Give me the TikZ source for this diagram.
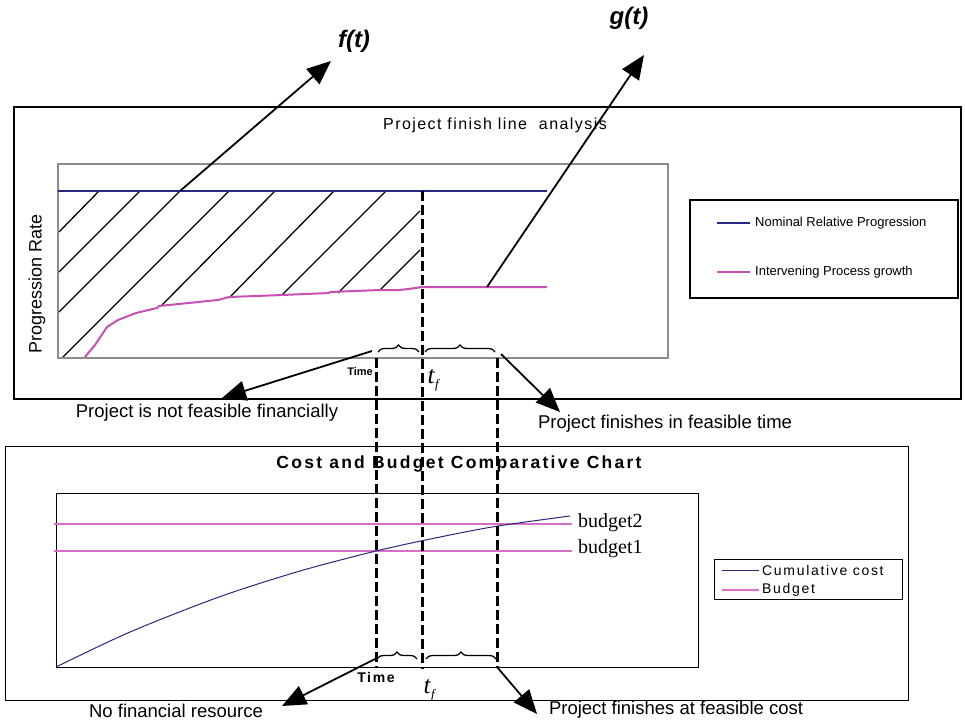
\documentclass[tikz,border=0pt]{standalone}
\usepackage{fontspec}
\setmainfont{Liberation Serif}
\setsansfont{Liberation Sans}
\newfontfamily\capfont{Liberation Sans}
\newfontfamily\headfont[LetterSpace=9]{Liberation Sans}
\newfontfamily\chartfont[LetterSpace=13]{Liberation Sans}
\newfontfamily\keyfont[LetterSpace=12]{Liberation Sans}
\usetikzlibrary{arrows.meta,decorations.pathreplacing}

\definecolor{navyline}{RGB}{40,40,130}
\definecolor{pinkline}{RGB}{200,80,180}
\definecolor{softpink}{RGB}{215,110,200}
\definecolor{framegray}{RGB}{140,140,140}

\begin{document}
\begin{tikzpicture}[x=1pt,y=-1pt,
  outerframe/.style={draw=black,line width=2},
  thinframe/.style={draw=black,line width=1},
  plotframe/.style={draw=framegray,line width=2},
  nominal/.style={draw=navyline,line width=2},
  growth/.style={draw=pinkline,line width=2},
  costline/.style={draw=navyline,line width=1},
  budgetline/.style={draw=softpink,line width=1.4},
  hatchline/.style={draw=black,line width=1.3},
  guide/.style={draw=black,line width=3,dash pattern=on 10pt off 4pt},
  callout/.style={draw=black,line width=1.8,-{Triangle[length=24pt,width=20pt]}},
  timebrace/.style={draw=black,line width=1.3,decorate,decoration={brace,amplitude=7pt}},
  caption/.style={font=\capfont\fontsize{18.5}{22}\selectfont,inner sep=0pt},
  legendtext/.style={font=\capfont\fontsize{13}{15}\selectfont,inner sep=0pt,anchor=west},
  costlegend/.style={font=\keyfont\fontsize{14}{16}\selectfont,inner sep=0pt,anchor=west},
  budgetlabel/.style={font=\fontsize{20}{22}\selectfont,inner sep=0pt,anchor=west},
  funclabel/.style={font=\capfont\bfseries\itshape\fontsize{24}{26}\selectfont,inner sep=0pt},
  tflabel/.style={font=\fontsize{25}{26}\selectfont,inner sep=0pt}
]
\useasboundingbox (0,0) rectangle (965,723);
\fill[white] (0,0) rectangle (965,723);

% ---------- upper panel: project finish line analysis ----------
\draw[outerframe] (14,107) rectangle (961,399);
\node[font=\headfont\fontsize{16}{18}\selectfont,inner sep=0pt] (uptitle) at (495,125) {Project finish line \ analysis};

% hatched area between the two progression curves
\draw[hatchline] (59,232) -- (99,191);
\draw[hatchline] (59,272) -- (140,191);
\draw[hatchline] (59,312) -- (180,191);
\draw[hatchline] (62,358) -- (229,191);
\draw[hatchline] (162,305) -- (275,191);
\draw[hatchline] (229,298) -- (334,191);
\draw[hatchline] (282,295) -- (386,191);
\draw[hatchline] (338,293) -- (420,211);
\draw[hatchline] (380,290) -- (420,250);

\draw[plotframe] (58,164) rectangle (668,358);
\node[font=\capfont\fontsize{18}{20}\selectfont,rotate=90,inner sep=0pt] (yaxis) at (37,284) {Progression Rate};

\draw[nominal] (58,191) -- (547,191);
\draw[growth,line join=round] (85,357) -- (95,345) -- (107,327) -- (118,320) -- (136,313)
  -- (157,308) -- (159,306) -- (218,300) -- (229,297) -- (282,295) -- (329,293)
  -- (330,292) -- (380,290) -- (400,290) -- (416,288) -- (421,287) -- (547,287);

% legend of the upper panel
\draw[outerframe] (690,200) rectangle (958,298);
\draw[nominal] (717,223) -- (750,223);
\node[legendtext] (legnom) at (755,223) {Nominal Relative Progression};
\draw[growth] (717,272) -- (750,272);
\node[legendtext] (leggrow) at (755,272) {Intervening Process growth};

% function labels
\node[funclabel] (ft) at (354,41) {f(t)};
\node[funclabel] (gt) at (629,18) {g(t)};
\coordinate (ftTail) at (180,191);
\coordinate (ftTip) at (331,61);
\coordinate (gtTail) at (487,287);
\coordinate (gtTip) at (644,55);
\draw[callout] (ftTail) -- (ftTip);
\draw[callout] (gtTail) -- (gtTip);

% time markers of the upper panel
\draw[timebrace] (378,352) -- (419,352);
\draw[timebrace] (425,352) -- (495,352);
\node[font=\capfont\bfseries\fontsize{11}{12}\selectfont,inner sep=0pt] (uptime) at (360,372) {Time};
\node[tflabel] (uptf) at (434,380) {\textit{t}\raisebox{-5pt}{\fontsize{13}{14}\selectfont\textit{f}}};

\coordinate (upLeft) at (372,351);
\coordinate (upLeftTip) at (222,398);
\coordinate (upRight) at (501,354);
\coordinate (upRightTip) at (560,412);
\draw[callout] (upLeft) -- (upLeftTip);
\draw[callout] (upRight) -- (upRightTip);
\node[caption] (notfeasible) at (207,413) {Project is not feasible financially};
\node[caption] (feasibletime) at (665,424) {Project finishes in feasible time};

% ---------- lower panel: cost and budget chart ----------
\draw[thinframe] (5,446) rectangle (908,700);
\node[font=\chartfont\bfseries\fontsize{17.5}{19}\selectfont,inner sep=0pt] (lowtitle) at (459,464) {Cost and Budget Comparative Chart};
\draw[thinframe] (56,493) rectangle (698,667);

\draw[budgetline] (54,524) -- (572,524);
\draw[budgetline] (54,551) -- (572,551);
\draw[costline] plot[smooth] coordinates {(56,667) (130,632) (219,597) (300,571) (376,551) (440,537) (498,526) (570,516)};
\node[budgetlabel] (bud2) at (578,523) {budget2};
\node[budgetlabel] (bud1) at (578,549) {budget1};

% legend of the lower panel
\draw[thinframe] (714,559) rectangle (902,599);
\draw[costline] (722,570) -- (759,570);
\node[costlegend] (legcost) at (762,570) {Cumulative cost};
\draw[budgetline] (722,590) -- (759,590);
\node[costlegend] (legbud) at (762,590) {Budget};

% time markers of the lower panel
\draw[timebrace] (377,659) -- (417,659);
\draw[timebrace] (426,659) -- (496,659);
\node[font=\keyfont\bfseries\fontsize{14}{15}\selectfont,inner sep=0pt] (lowtime) at (376,677) {Time};
\node[tflabel] (lowtf) at (430,690) {\textit{t}\raisebox{-5pt}{\fontsize{13}{14}\selectfont\textit{f}}};

\coordinate (lowLeft) at (375,659);
\coordinate (lowLeftTip) at (282,706);
\coordinate (lowRight) at (497,667);
\coordinate (lowRightTip) at (537,714);
\draw[callout] (lowLeft) -- (lowLeftTip);
\draw[callout] (lowRight) -- (lowRightTip);
\node[caption] (nofinance) at (176,711) {No financial resource};
\node[caption] (feasiblecost) at (676,710) {Project finishes at feasible cost};

% ---------- dashed guides through both panels ----------
\coordinate (gA1) at (376,358);
\coordinate (gA2) at (376,667);
\coordinate (gB1) at (422,191);
\coordinate (gB2) at (422,669);
\coordinate (gC1) at (497,358);
\coordinate (gC2) at (497,667);
\draw[guide] (gA1) -- (gA2);
\draw[guide] (gB1) -- (gB2);
\draw[guide] (gC1) -- (gC2);
\end{tikzpicture}
\end{document}
